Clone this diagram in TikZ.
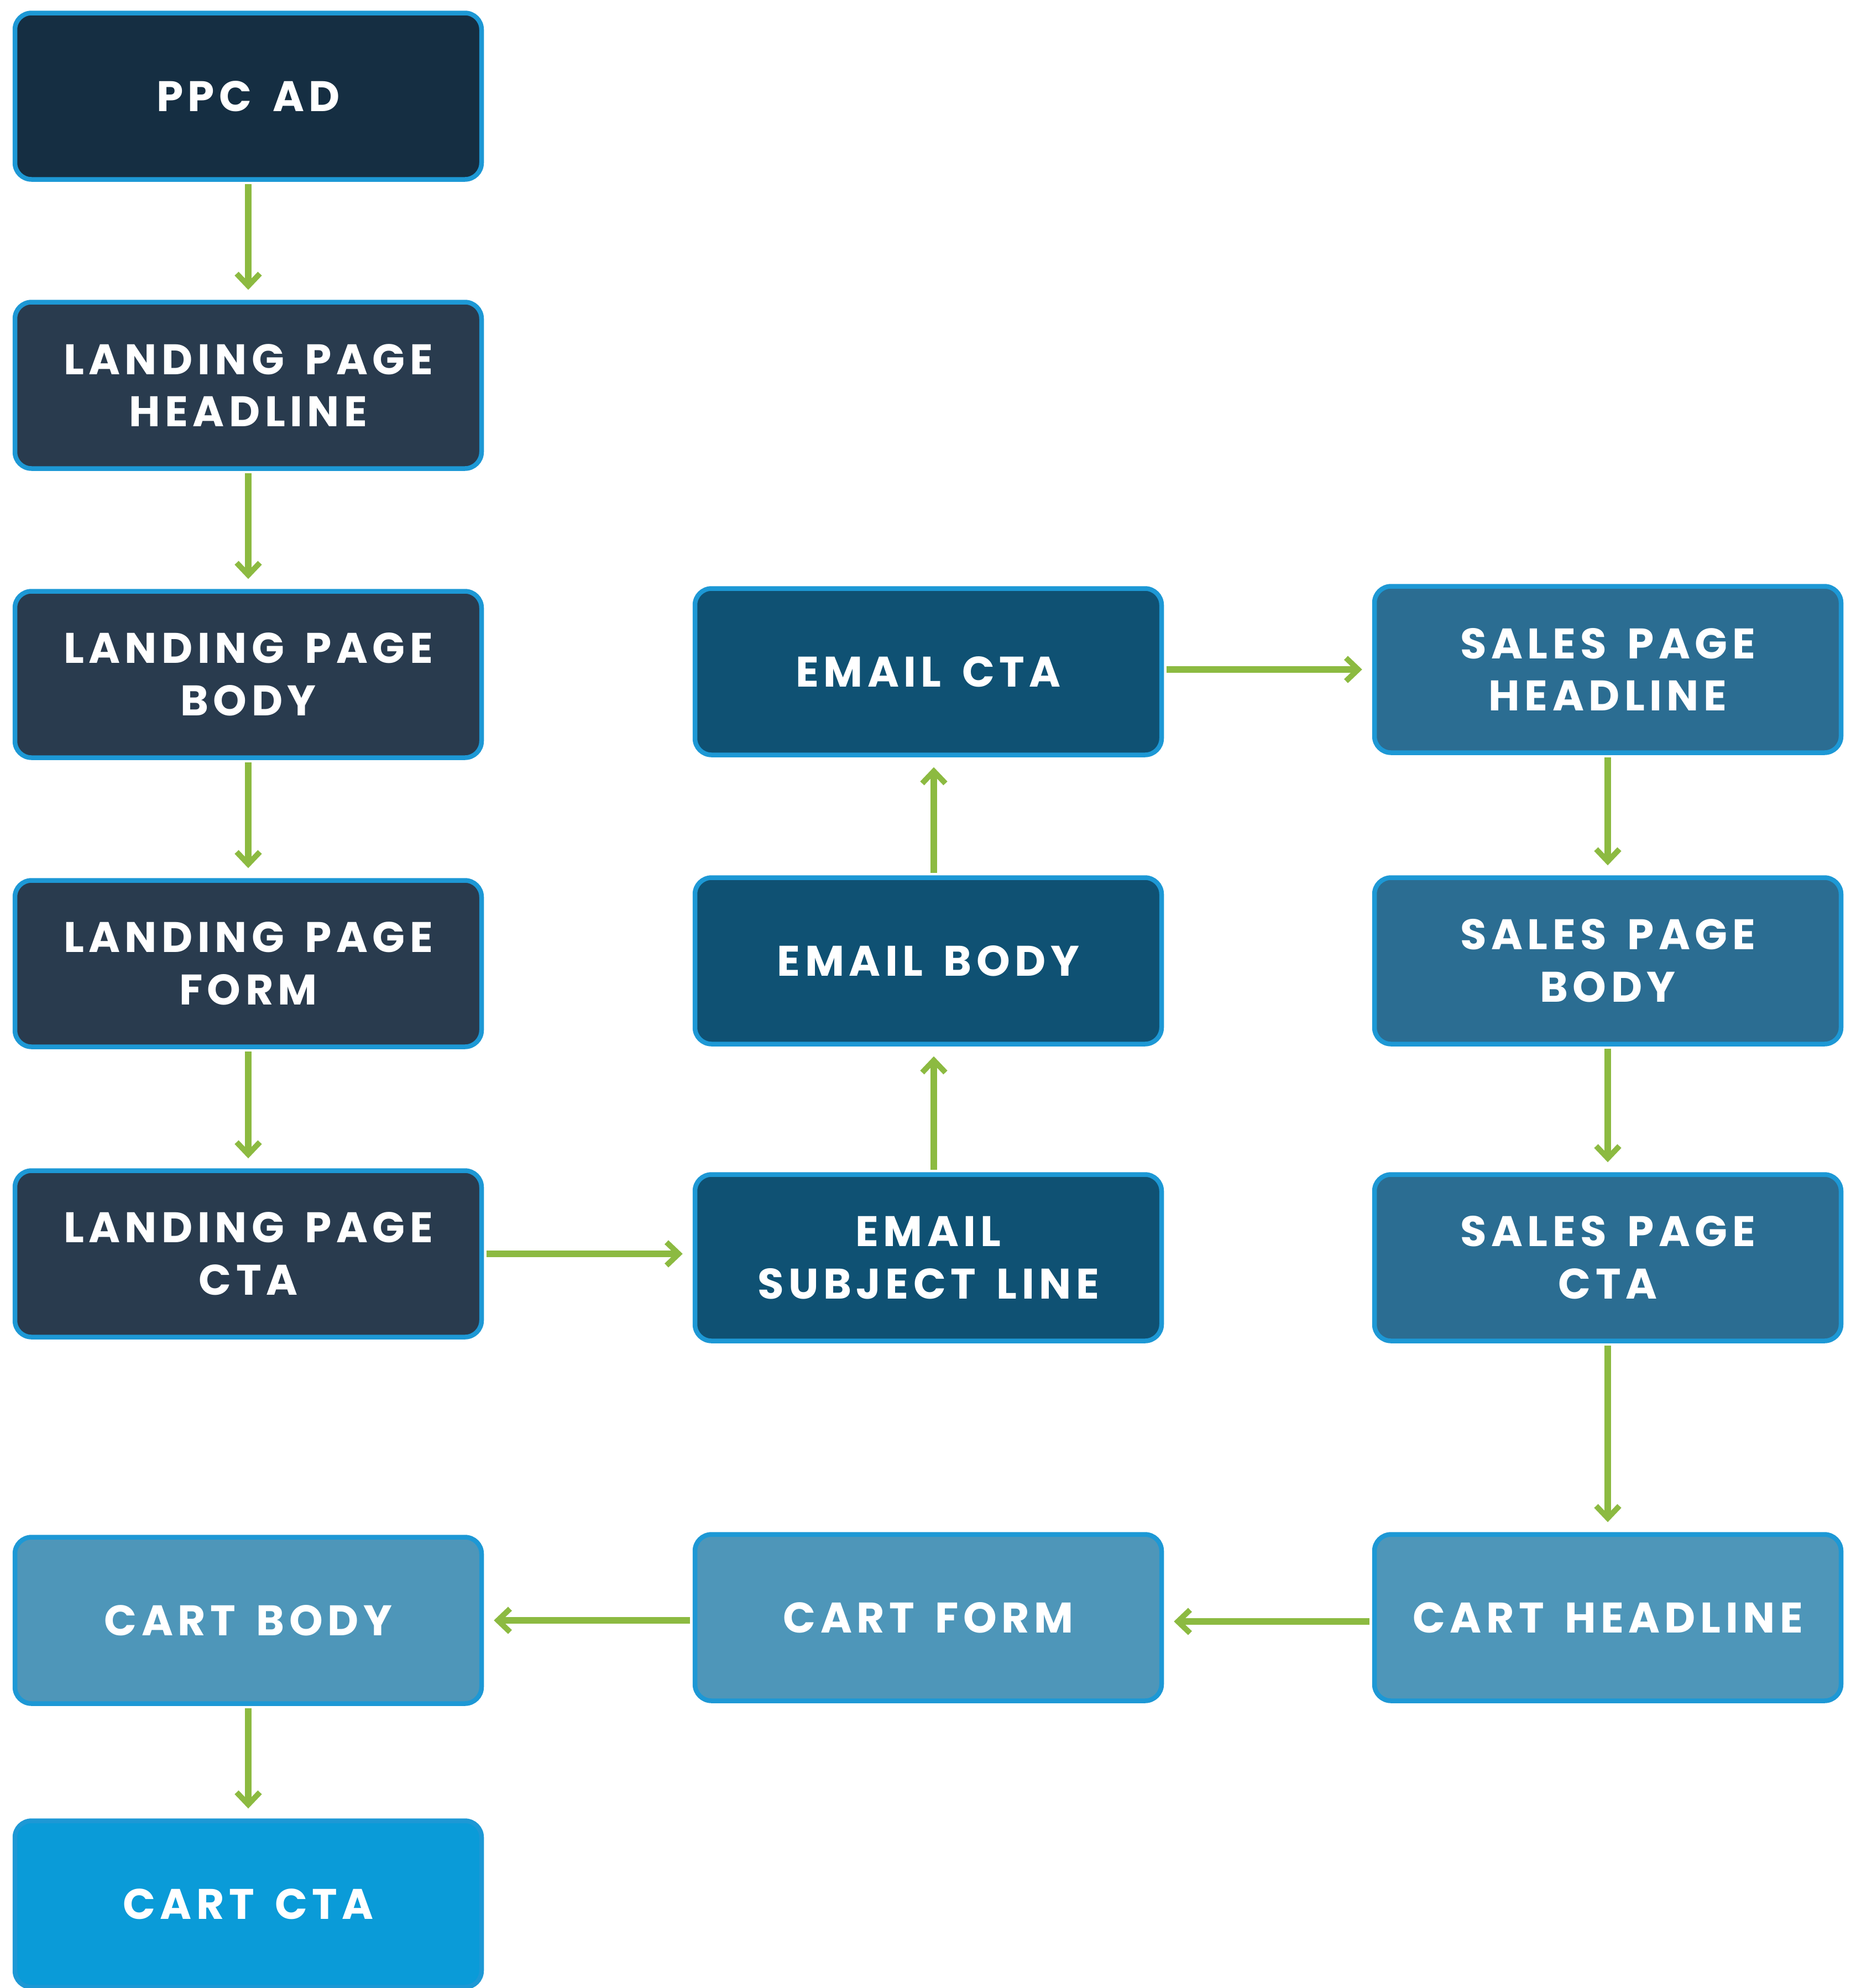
\documentclass[tikz,border=0pt]{standalone}
\usepackage{fontspec}
\newfontfamily\boxfont[LetterSpace=11,WordSpace=1.5]{Poppins}
\usepackage{tikz}
\definecolor{ppcnavy}{RGB}{21,46,66}
\definecolor{lpslate}{RGB}{41,59,78}
\definecolor{emailblue}{RGB}{15,81,115}
\definecolor{salesblue}{RGB}{43,109,146}
\definecolor{cartblue}{RGB}{78,150,185}
\definecolor{ctablue}{RGB}{10,155,216}
\definecolor{edgeblue}{RGB}{29,152,213}
\definecolor{flowgreen}{RGB}{140,186,65}
\usetikzlibrary{arrows.meta,positioning}

\begin{document}
\begin{tikzpicture}[
  funnelbox/.style={draw=edgeblue,line width=0.085cm,rounded corners=0.3cm,
    minimum width=8.44cm,minimum height=3.01cm,align=center,text=white,
    font=\boxfont\bfseries\fontsize{22}{27}\selectfont,inner sep=0pt},
  flowarrow/.style={draw=flowgreen,line width=0.12cm,
    -{Straight Barb[length=0.22cm,width=0.42cm,line width=0.1cm]},
    shorten <=0.045cm,shorten >=0.18cm}
]
  \useasboundingbox (0,0) rectangle (33.48,-35.96);
  \node[funnelbox,fill=ppcnavy] (ppc) at (4.49,-1.74) {PPC AD};
  \node[funnelbox,fill=lpslate] (lphead) at (4.49,-6.97) {LANDING PAGE\\HEADLINE};
  \node[funnelbox,fill=lpslate] (lpbody) at (4.49,-12.20) {LANDING PAGE\\BODY};
  \node[funnelbox,fill=lpslate] (lpform) at (4.49,-17.43) {LANDING PAGE\\FORM};
  \node[funnelbox,fill=lpslate] (lpcta) at (4.49,-22.68) {LANDING PAGE\\CTA};
  \node[funnelbox,fill=emailblue] (emailcta) at (16.79,-12.15) {EMAIL CTA};
  \node[funnelbox,fill=emailblue] (emailbody) at (16.79,-17.38) {EMAIL BODY};
  \node[funnelbox,fill=emailblue] (emailsubj) at (16.79,-22.75) {EMAIL\\SUBJECT LINE};
  \node[funnelbox,fill=salesblue] (sphead) at (29.08,-12.11) {SALES PAGE\\HEADLINE};
  \node[funnelbox,fill=salesblue] (spbody) at (29.08,-17.38) {SALES PAGE\\BODY};
  \node[funnelbox,fill=salesblue] (spcta) at (29.08,-22.75) {SALES PAGE\\CTA};
  \node[funnelbox,fill=cartblue] (cartbody) at (4.49,-29.31) {CART BODY};
  \node[funnelbox,fill=cartblue] (cartform) at (16.79,-29.26) {CART FORM};
  \node[funnelbox,fill=cartblue] (carthead) at (29.08,-29.26) {CART HEADLINE};
  \node[funnelbox,fill=ctablue] (cartcta) at (4.49,-34.44) {CART CTA};

  \draw[flowarrow] (ppc) -- (lphead);
  \draw[flowarrow] (lphead) -- (lpbody);
  \draw[flowarrow] (lpbody) -- (lpform);
  \draw[flowarrow] (lpform) -- (lpcta);
  \draw[flowarrow] (lpcta.east) -- (lpcta.east -| emailsubj.west);
  \draw[flowarrow] ([xshift=0.1cm]emailsubj.north) -- ([xshift=0.1cm]emailbody.south);
  \draw[flowarrow] ([xshift=0.1cm]emailbody.north) -- ([xshift=0.1cm]emailcta.south);
  \draw[flowarrow] (emailcta.east |- sphead.west) -- (sphead.west);
  \draw[flowarrow] (sphead) -- (spbody);
  \draw[flowarrow] (spbody) -- (spcta);
  \draw[flowarrow] (spcta) -- (carthead);
  \draw[flowarrow] ([yshift=-0.07cm]carthead.west) -- ([yshift=-0.07cm]cartform.east);
  \draw[flowarrow] (cartform.west |- cartbody.east) -- (cartbody.east);
  \draw[flowarrow] (cartbody) -- (cartcta);
\end{tikzpicture}
\end{document}
